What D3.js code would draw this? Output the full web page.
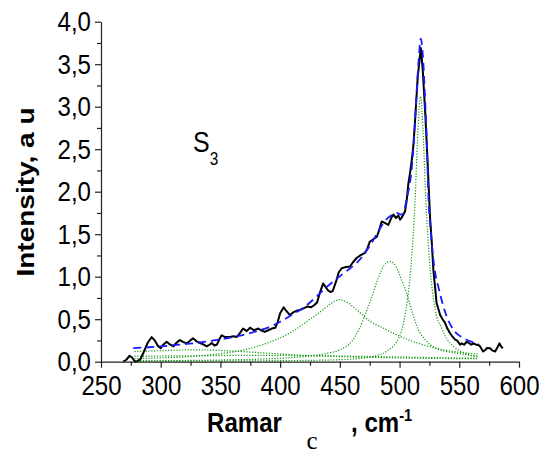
<!DOCTYPE html>
<html><head><meta charset="utf-8">
<script src="https://cdn.jsdelivr.net/npm/d3@7"></script>
<style>body{margin:0;background:#fff}svg{display:block}</style>
</head><body>
<svg id="chart" width="543" height="454"></svg>
<script>
// ---- data ----
const xTickValues = [250, 300, 350, 400, 450, 500, 550, 600];
const xMinorTicks = [275, 325, 375, 425, 475, 525, 575];
const yTickValues = [0, 0.5, 1, 1.5, 2, 2.5, 3, 3.5, 4];
const yMinorTicks = [0.25, 0.75, 1.25, 1.75, 2.25, 2.75, 3.25, 3.75];

const spectrumShift = [268.5,271,274,276,278.5,281,283,286,289,292.4,295,298,300,302,305,308,310.6,313,316,319,321.8,324,327,330,333,336,338.5,341,342.7,345,347,349,351,354,358,361,363.6,366,369,372,374.8,378,381.7,384,387,390,393,396,398,400,403,405,408,411,414,416.7,420,423,426,429,431,433,436,438,440,442,444,447,449,451.5,454,458.5,461,464,467,471,473,475,478,481,483,485,488,490.6,493,494.9,497,499,500.4,502,504.6,506,507.4,508.8,510.2,511.6,513,515.2,517.8,519.4,521.4,523.3,525.5,527,528.3,529.7,531,532.5,534,536,538,540,542,544,546.5,548,550.7,552,554,556.3,558,560,562,564,566,567.4,570,572,573,575.8,578,580,582,583.6,585,586.4];
const spectrumIntensity = [0,0.02,0.07,0.05,0,0.01,0.03,0.12,0.22,0.29,0.25,0.18,0.16,0.2,0.235,0.2,0.18,0.22,0.255,0.23,0.216,0.24,0.275,0.24,0.22,0.2,0.18,0.2,0.22,0.19,0.2,0.26,0.31,0.29,0.29,0.3,0.29,0.33,0.39,0.36,0.4,0.37,0.39,0.37,0.35,0.37,0.39,0.4,0.47,0.57,0.64,0.6,0.55,0.58,0.6,0.61,0.63,0.65,0.64,0.67,0.7,0.8,0.92,0.88,0.84,0.82,0.83,0.95,1.05,1.1,1.11,1.12,1.17,1.22,1.25,1.28,1.33,1.41,1.44,1.47,1.55,1.65,1.63,1.61,1.69,1.73,1.69,1.72,1.67,1.7,1.77,1.9,2.1,2.22,2.37,2.55,2.84,3.35,3.69,3.43,2.95,2.4,1.7,1.4,1.08,0.88,0.69,0.62,0.55,0.5,0.46,0.39,0.34,0.3,0.26,0.25,0.2,0.216,0.2,0.235,0.22,0.2,0.216,0.2,0.196,0.18,0.12,0.14,0.16,0.157,0.13,0.12,0.17,0.216,0.18,0.157];

const fitShift = [277,290,300,315,327,340,355,370,383,393,400,411,420,430,439,446,455,464,472.5,478,483.7,488,492,497.6,501,503,506,508,510,512,514,516,517.8,519.5,521.5,523,524,526,528.3,530,532.5,536.7,542,547.9,552,556.3,560,564.7,566];
const fitIntensity = [0.16,0.17,0.18,0.2,0.216,0.24,0.275,0.32,0.37,0.42,0.47,0.56,0.64,0.76,0.88,0.96,1.06,1.16,1.31,1.43,1.57,1.66,1.71,1.75,1.73,1.74,1.92,2.05,2.25,2.6,3.1,3.55,3.8,3.6,3.05,2.5,2.0,1.55,1.2,1.03,0.88,0.65,0.45,0.33,0.29,0.255,0.235,0.22,0.21];

const peak518Shift = [278,350,420,460,480,490,500,505,510,513,515,517.5,520,522,525,530,535,540,545,555,566];
const peak518Intensity = [0.01,0.01,0.015,0.03,0.07,0.13,0.3,0.58,1.2,1.9,2.6,3.12,2.6,1.9,1.2,0.6,0.4,0.26,0.18,0.1,0.06];

const peak492Shift = [278,350,400,420,440,450,460,466,471,476,482,487,492,497,502,506,511,516,522,530,540,552,566];
const peak492Intensity = [0.01,0.02,0.04,0.06,0.1,0.14,0.24,0.38,0.55,0.73,0.98,1.13,1.18,1.12,0.95,0.8,0.56,0.37,0.25,0.16,0.12,0.09,0.06];

const peak450Shift = [278,300,325,350,370,385,400,412,425,435,443,450,457,465,475,487,500,515,530,550,566];
const peak450Intensity = [0.035,0.045,0.06,0.095,0.14,0.2,0.28,0.37,0.5,0.6,0.69,0.73,0.69,0.6,0.48,0.39,0.3,0.22,0.16,0.11,0.09];

const peak330Shift = [278,300,330,360,390,420,450,480,520,566];
const peak330Intensity = [0.12,0.13,0.14,0.125,0.1,0.075,0.06,0.05,0.04,0.035];

const broadShift = [278,330,380,430,480,520,566];
const broadIntensity = [0.065,0.07,0.075,0.07,0.06,0.05,0.04];

// ---- drawing ----
const svg = d3.select("#chart");
const x = d3.scaleLinear().domain([250, 600]).range([101, 519]);
const y = d3.scaleLinear().domain([0, 4]).range([361.7, 21.7]);
const SX = 0.86;
const FONT = "'Liberation Sans', Arial, sans-serif";

const zip = (a, b) => a.map((v, i) => [v, b[i]]);

const lineSmooth = d3.line().x(d => x(d[0])).y(d => y(d[1])).curve(d3.curveMonotoneX);
const lineRaw = d3.line().x(d => x(d[0])).y(d => y(d[1]));

// green components
const comps = [[peak330Shift, peak330Intensity],[broadShift, broadIntensity],[peak450Shift, peak450Intensity],[peak492Shift, peak492Intensity],[peak518Shift, peak518Intensity]];
comps.forEach(([s, v]) => {
  svg.append("path").attr("d", lineSmooth(zip(s, v)))
    .attr("fill", "none").attr("stroke", "#109a10").attr("stroke-width", 1.2)
    .attr("stroke-dasharray", "1.2,1.6");
});

// measured spectrum
svg.append("path").attr("d", lineRaw(zip(spectrumShift, spectrumIntensity)))
  .attr("fill", "none").attr("stroke", "#000").attr("stroke-width", 2).attr("stroke-linejoin", "round");

// fit
svg.append("path").attr("d", lineSmooth(zip(fitShift, fitIntensity)))
  .attr("fill", "none").attr("stroke", "#1a1aff").attr("stroke-width", 1.8)
  .attr("stroke-dasharray", "8,5");

// axes
const fmt = d => d.toFixed(1).replace(".", ",");
const gy = svg.append("g").attr("transform", "translate(101,0)")
  .call(d3.axisLeft(y).tickValues(yTickValues).tickSize(6).tickPadding(4).tickSizeOuter(0).tickFormat(fmt));
svg.append("g").attr("transform", "translate(101,0)")
  .call(d3.axisLeft(y).tickValues(yMinorTicks).tickSize(4).tickSizeOuter(0).tickFormat(""))
  .select(".domain").remove();
const gx = svg.append("g").attr("transform", "translate(0,361.7)")
  .call(d3.axisBottom(x).tickValues(xTickValues).tickSize(6).tickPadding(7).tickSizeOuter(0).tickFormat(d3.format("d")));
svg.append("g").attr("transform", "translate(0,361.7)")
  .call(d3.axisBottom(x).tickValues(xMinorTicks).tickSize(4).tickSizeOuter(0).tickFormat(""))
  .select(".domain").remove();

svg.selectAll(".domain, .tick line").attr("stroke", "#222").attr("stroke-width", 1.2);
gy.selectAll("text").attr("font-family", FONT).attr("font-size", 28).attr("fill", "#000")
  .attr("x", -10 / SX).attr("transform", `scale(${SX},1)`);
gx.selectAll("text").attr("font-family", FONT).attr("font-size", 28).attr("fill", "#000")
  .attr("transform", `scale(${SX},1)`);

// y label
svg.append("text").attr("transform", `translate(34,192) scale(${SX},1) rotate(-90)`)
  .attr("text-anchor", "middle").attr("font-family", FONT).attr("font-weight", "bold")
  .attr("font-size", 28).text("Intensity, a u");

// x label (partly hidden in the original)
svg.append("text").attr("transform", `translate(207,432) scale(${SX},1)`)
  .attr("font-family", FONT).attr("font-weight", "bold").attr("font-size", 28).text("Ramar");
const t2 = svg.append("text").attr("transform", `translate(351,432) scale(${SX},1)`)
  .attr("font-family", FONT).attr("font-weight", "bold").attr("font-size", 28);
t2.append("tspan").text(", cm");
t2.append("tspan").attr("font-size", 17).attr("dy", -11).text("-1");

// S3 label
const s3 = svg.append("text").attr("transform", `translate(193,152) scale(${SX},1)`)
  .attr("font-family", FONT).attr("font-size", 29);
s3.append("tspan").text("S");
s3.append("tspan").attr("font-size", 18).attr("dy", 13).text("3");

// panel label
svg.append("text").attr("x", 312).attr("y", 449).attr("text-anchor", "middle")
  .attr("font-family", "'Liberation Serif', 'Times New Roman', serif").attr("font-size", 25).text("c");
</script>
</body></html>
